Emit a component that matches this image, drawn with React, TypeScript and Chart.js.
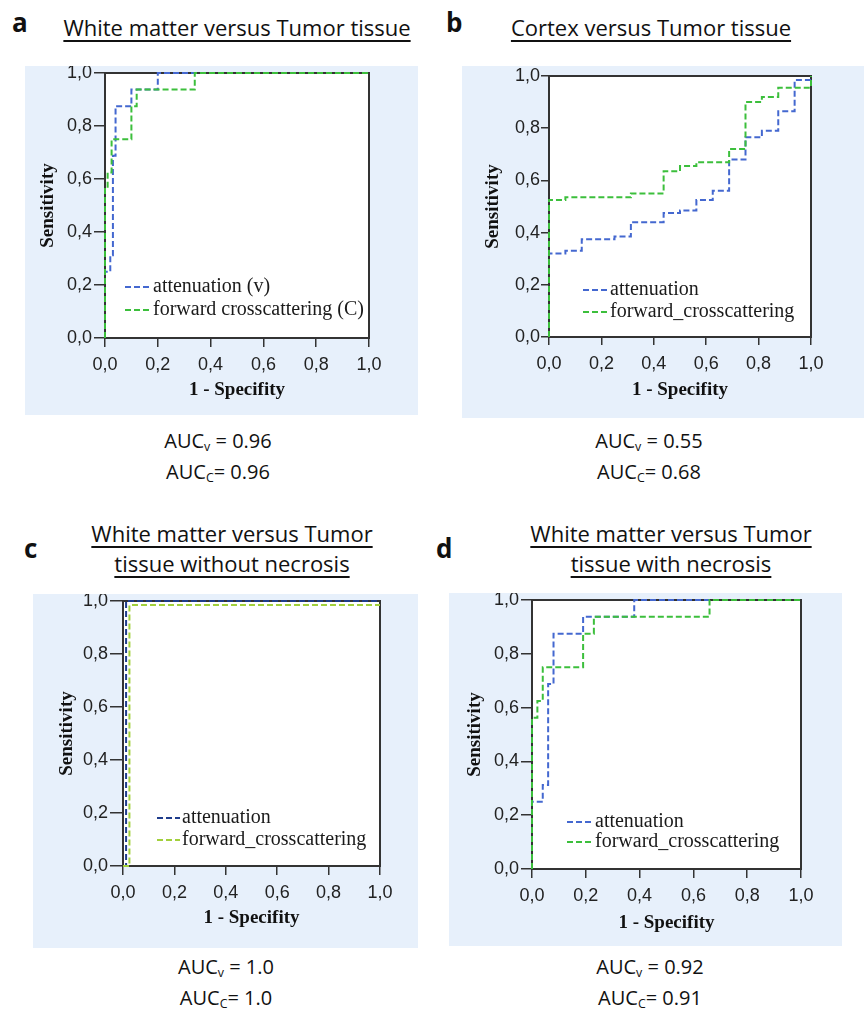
import React, { useEffect, useRef } from 'react';
import { Chart, registerables } from 'chart.js';

Chart.register(...registerables);

// ---------- data ----------
const TICK_VALUES = [0, 0.2, 0.4, 0.6, 0.8, 1.0];
const TICK_LABELS = ['0,0', '0,2', '0,4', '0,6', '0,8', '1,0'];
const X_TITLE = '1 - Specifity';
const Y_TITLE = 'Sensitivity';

const NAMES_A = ['attenuation (v)', 'forward crosscattering (C)'];
const NAMES = ['attenuation', 'forward_crosscattering'];

// panel a: White matter vs Tumor tissue
const A_ATT_FPR = [0, 0, 0.02, 0.03, 0.04, 0.1, 0.2, 1];
const A_ATT_SENS = [0, 0.25, 0.3125, 0.6875, 0.875, 0.9375, 1, 1];
const A_FWD_FPR = [0, 0, 0.01, 0.025, 0.1, 0.12, 0.34, 1];
const A_FWD_SENS = [0, 0.5625, 0.625, 0.75, 0.875, 0.9375, 1, 1];

// panel b: Cortex vs Tumor tissue
const B_ATT_FPR = [0, 0, 0.0625, 0.125, 0.25, 0.3125, 0.4375, 0.5, 0.5625, 0.625, 0.6875, 0.75, 0.8125, 0.875, 0.9375, 1];
const B_ATT_SENS = [0, 0.32, 0.33, 0.375, 0.385, 0.44, 0.475, 0.485, 0.525, 0.56, 0.68, 0.765, 0.79, 0.865, 0.985, 1];
const B_FWD_FPR = [0, 0, 0.0625, 0.3125, 0.4375, 0.5, 0.5625, 0.6875, 0.75, 0.8125, 0.875, 1];
const B_FWD_SENS = [0, 0.525, 0.535, 0.55, 0.635, 0.655, 0.67, 0.72, 0.9, 0.92, 0.955, 1];

// panel c: without necrosis
const C_ATT_FPR = [0, 0.012, 1];
const C_ATT_SENS = [0, 1, 1];
const C_FWD_FPR = [0, 0.025, 1];
const C_FWD_SENS = [0, 0.985, 0.985];

// panel d: with necrosis
const D_ATT_FPR = [0, 0, 0.04, 0.06, 0.08, 0.19, 0.38, 1];
const D_ATT_SENS = [0, 0.25, 0.3125, 0.6875, 0.875, 0.9375, 1, 1];
const D_FWD_FPR = [0, 0, 0.02, 0.04, 0.19, 0.23, 0.66, 1];
const D_FWD_SENS = [0, 0.5625, 0.625, 0.75, 0.875, 0.9375, 1, 1];

const AUC_V = ['0.96', '0.55', '1.0', '0.92'];
const AUC_C = ['0.96', '0.68', '1.0', '0.91'];

// ---------- styles ----------
const BG = '#e7f0fb';
const BLUE = '#4468d0';
const GREEN = '#3cbf3c';
const BLUE_C = '#1e3c8c';
const GREEN_C = '#a2d03c';
const SANS = '"Liberation Sans", Arial, sans-serif';
const SERIF = '"Liberation Serif", "Times New Roman", serif';
const TEXT_SANS = '"Open Sans", sans-serif';

type Spec = {
  box: { x: number; y: number; w: number; h: number };
  padL: number; padR: number; padT: number; padB: number;
  yTl: number; yPad: number; xTl: number; xPad: number;
  yTitlePad: number; xTitlePad: number;
  leg: { d0: number; d1: number; tx: number; rows: number[] };
  names: string[];
  series: { fpr: number[]; sens: number[]; color: string }[];
};

const SPECS: Spec[] = [
  {
    box: { x: 25, y: 66, w: 393, h: 349 },
    padL: 80, padR: 49, padT: 7, padB: 77,
    yTl: 11, yPad: 2, xTl: 9, xPad: 7, yTitlePad: 11.6, xTitlePad: 13.6,
    leg: { d0: 20, d1: 47, tx: 48, rows: [51, 28] },
    names: NAMES_A,
    series: [
      { fpr: A_ATT_FPR, sens: A_ATT_SENS, color: BLUE },
      { fpr: A_FWD_FPR, sens: A_FWD_SENS, color: GREEN },
    ],
  },
  {
    box: { x: 462, y: 66, w: 402, h: 352 },
    padL: 87, padR: 53, padT: 10, padB: 81,
    yTl: 8, yPad: 1, xTl: 8, xPad: 8, yTitlePad: 19.6, xTitlePad: 16.6,
    leg: { d0: 34, d1: 59, tx: 61, rows: [47, 25] },
    names: NAMES,
    series: [
      { fpr: B_ATT_FPR, sens: B_ATT_SENS, color: BLUE },
      { fpr: B_FWD_FPR, sens: B_FWD_SENS, color: GREEN },
    ],
  },
  {
    box: { x: 33, y: 594, w: 385, h: 354 },
    padL: 90, padR: 38, padT: 7, padB: 82,
    yTl: 13, yPad: 2, xTl: 9, xPad: 7, yTitlePad: 22.6, xTitlePad: 18.6,
    leg: { d0: 34, d1: 57, tx: 59, rows: [48, 26] },
    names: NAMES,
    series: [
      { fpr: C_ATT_FPR, sens: C_ATT_SENS, color: BLUE_C },
      { fpr: C_FWD_FPR, sens: C_FWD_SENS, color: GREEN_C },
    ],
  },
  {
    box: { x: 449, y: 593, w: 393, h: 353 },
    padL: 83, padR: 41, padT: 7, padB: 77,
    yTl: 11, yPad: 2, xTl: 9, xPad: 7, yTitlePad: 14.6, xTitlePad: 11.6,
    leg: { d0: 35, d1: 61, tx: 63, rows: [47, 27] },
    names: NAMES,
    series: [
      { fpr: D_ATT_FPR, sens: D_ATT_SENS, color: BLUE },
      { fpr: D_FWD_FPR, sens: D_FWD_SENS, color: GREEN },
    ],
  },
];

function buildConfig(s: Spec): any {
  const datasets = s.series.map((ser, k) => ({
    label: s.names[k],
    data: ser.fpr.map((x, i) => ({ x, y: ser.sens[i] })),
    stepped: 'before',
    borderColor: ser.color,
    backgroundColor: ser.color,
    borderWidth: 2,
    borderDash: [6, 3],
    pointRadius: 0,
    pointHoverRadius: 0,
    fill: false,
    clip: 6,
    order: 1 - k,
  }));

  const plotPlugin = {
    id: 'rocPlot',
    beforeDraw(chart: any) {
      const { ctx, chartArea: a } = chart;
      ctx.save();
      ctx.fillStyle = '#ffffff';
      ctx.fillRect(a.left, a.top, a.right - a.left, a.bottom - a.top);
      ctx.restore();
    },
    beforeDatasetsDraw(chart: any) {
      const { ctx, chartArea: a } = chart;
      ctx.save();
      ctx.strokeStyle = '#333333';
      ctx.lineWidth = 2;
      ctx.strokeRect(a.left, a.top, a.right - a.left, a.bottom - a.top);
      ctx.restore();
    },
    afterDraw(chart: any) {
      const { ctx, chartArea: a } = chart;
      ctx.save();
      s.series.forEach((ser, k) => {
        const y = a.bottom - s.leg.rows[k];
        ctx.strokeStyle = ser.color;
        ctx.lineWidth = 2;
        ctx.setLineDash([6, 3]);
        ctx.beginPath();
        ctx.moveTo(a.left + s.leg.d0, y);
        ctx.lineTo(a.left + s.leg.d1, y);
        ctx.stroke();
        ctx.setLineDash([]);
        ctx.fillStyle = '#1a1a1a';
        ctx.font = `20px ${SERIF}`;
        ctx.textBaseline = 'alphabetic';
        ctx.textAlign = 'left';
        ctx.fillText(s.names[k], a.left + s.leg.tx, y + 4.5);
      });
      ctx.restore();
    },
  };

  const tickFont = { family: SANS, size: 18 };
  const titleFont = { family: SERIF, size: 19, weight: 'bold' };

  return {
    type: 'line',
    data: { datasets },
    plugins: [plotPlugin],
    options: {
      animation: false,
      responsive: false,
      maintainAspectRatio: false,
      layout: { padding: { left: 0, right: s.padR, top: s.padT, bottom: 0 } },
      plugins: { legend: { display: false }, tooltip: { enabled: false } },
      scales: {
        x: {
          type: 'linear',
          min: 0,
          max: 1,
          afterBuildTicks: (sc: any) => {
            sc.ticks = TICK_VALUES.map((v) => ({ value: v }));
          },
          afterFit: (sc: any) => {
            sc.height = s.padB;
            sc.paddingLeft = 0;
            sc.paddingRight = 0;
          },
          ticks: {
            callback: (_v: any, i: number) => TICK_LABELS[i],
            font: tickFont,
            color: '#222222',
            padding: s.xPad,
            maxRotation: 0,
            autoSkip: false,
          },
          grid: { drawOnChartArea: false, drawTicks: true, tickLength: s.xTl, color: '#333333', lineWidth: 1.5 },
          border: { display: false },
          title: { display: true, text: X_TITLE, font: titleFont, color: '#111111', padding: { top: 0, bottom: s.xTitlePad } },
        },
        y: {
          type: 'linear',
          min: 0,
          max: 1,
          afterBuildTicks: (sc: any) => {
            sc.ticks = TICK_VALUES.map((v) => ({ value: v }));
          },
          afterFit: (sc: any) => {
            sc.width = s.padL;
            sc.paddingTop = 0;
            sc.paddingBottom = 0;
          },
          ticks: {
            callback: (_v: any, i: number) => TICK_LABELS[i],
            font: tickFont,
            color: '#222222',
            padding: s.yPad,
            autoSkip: false,
          },
          grid: { drawOnChartArea: false, drawTicks: true, tickLength: s.yTl, color: '#333333', lineWidth: 1.5 },
          border: { display: false },
          title: { display: true, text: Y_TITLE, font: titleFont, color: '#111111', padding: { top: s.yTitlePad, bottom: 0 } },
        },
      },
    },
  };
}

function RocPanel({ spec }: { spec: Spec }) {
  const ref = useRef<HTMLCanvasElement>(null);
  useEffect(() => {
    const chart = new Chart(ref.current as HTMLCanvasElement, buildConfig(spec));
    return () => chart.destroy();
  }, [spec]);
  return (
    <canvas
      ref={ref}
      width={spec.box.w}
      height={spec.box.h}
      style={{
        position: 'absolute',
        left: spec.box.x,
        top: spec.box.y,
        width: spec.box.w,
        height: spec.box.h,
        background: BG,
      }}
    />
  );
}

const PANEL_LETTERS = ['a', 'b', 'c', 'd'];
const LETTER_POS = [
  { x: 12, y: 7 },
  { x: 446, y: 7 },
  { x: 24, y: 533 },
  { x: 436, y: 533 },
];
const TITLES = [
  ['White matter versus Tumor tissue'],
  ['Cortex versus Tumor tissue'],
  ['White matter versus Tumor', 'tissue without necrosis'],
  ['White matter versus Tumor', 'tissue with necrosis'],
];
const TITLE_POS = [
  { cx: 237, top: 11.5 },
  { cx: 651, top: 11.5 },
  { cx: 232, top: 518 },
  { cx: 671, top: 518 },
];
const AUC_POS = [
  { cx: 218, top: 424.5 },
  { cx: 649, top: 424.5 },
  { cx: 226, top: 951 },
  { cx: 650, top: 951 },
];

const subStyle: React.CSSProperties = { fontSize: '0.62em', verticalAlign: '-0.28em', lineHeight: 0 };

export default function App() {
  return (
    <div style={{ position: 'absolute', left: 0, top: 0, width: 864, height: 1009, background: '#ffffff', overflow: 'hidden' }}>
      {SPECS.map((s, i) => (
        <RocPanel key={i} spec={s} />
      ))}
      {PANEL_LETTERS.map((l, i) => (
        <div
          key={'l' + i}
          style={{
            position: 'absolute',
            left: LETTER_POS[i].x,
            top: LETTER_POS[i].y,
            fontFamily: TEXT_SANS,
            fontWeight: 700,
            fontSize: 26,
            lineHeight: '30px',
            color: '#111',
          }}
        >
          {l}
        </div>
      ))}
      {TITLES.map((lines, i) => (
        <div
          key={'t' + i}
          style={{
            position: 'absolute',
            left: TITLE_POS[i].cx - 250,
            top: TITLE_POS[i].top,
            width: 500,
            textAlign: 'center',
            fontFamily: TEXT_SANS,
            fontSize: 22,
            lineHeight: '30px',
            color: '#111',
          }}
        >
          {lines.map((t, k) => (
            <div key={k}>
              <span
                style={{
                  textDecoration: 'underline',
                  textDecorationThickness: '1.5px',
                  textUnderlineOffset: '4px',
                }}
              >
                {t}
              </span>
            </div>
          ))}
        </div>
      ))}
      {AUC_POS.map((p, i) => (
        <div
          key={'a' + i}
          style={{
            position: 'absolute',
            left: p.cx - 150,
            top: p.top,
            width: 300,
            textAlign: 'center',
            fontFamily: TEXT_SANS,
            fontSize: 20,
            lineHeight: '31px',
            color: '#111',
          }}
        >
          <div>
            AUC<span style={subStyle}>v</span> = {AUC_V[i]}
          </div>
          <div>
            AUC<span style={subStyle}>C</span>= {AUC_C[i]}
          </div>
        </div>
      ))}
    </div>
  );
}
